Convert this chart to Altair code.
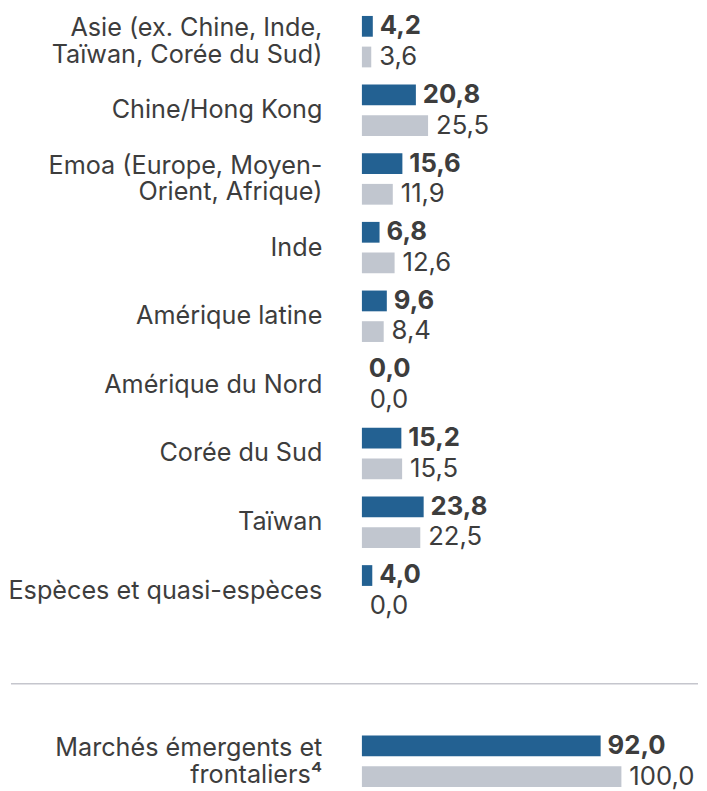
import altair as alt
import pandas as pd

categories = [
    "Asie (ex. Chine, Inde,\nTaïwan, Corée du Sud)",
    "Chine/Hong Kong",
    "Emoa (Europe, Moyen-\nOrient, Afrique)",
    "Inde",
    "Amérique latine",
    "Amérique du Nord",
    "Corée du Sud",
    "Taïwan",
    "Espèces et quasi-espèces",
]
fonds = [4.2, 20.8, 15.6, 6.8, 9.6, 0.0, 15.2, 23.8, 4.0]
indice = [3.6, 25.5, 11.9, 12.6, 8.4, 0.0, 15.5, 22.5, 0.0]

total_category = ["Marchés émergents et\nfrontaliers⁴"]
total_fonds = [92.0]
total_indice = [100.0]

series = ["Fonds", "Indice"]

BLUE = "#236192"
GREY = "#c1c6cf"
TEXT = "#3d3d3d"
FONT = "Inter"
FS = 25.5
VFS = 26
LH = 27


def long_df(cats, a, b):
    rows = []
    for c, va, vb in zip(cats, a, b):
        rows.append({"cat": c, "serie": series[0], "val": va})
        rows.append({"cat": c, "serie": series[1], "val": vb})
    return pd.DataFrame(rows)


xscale = alt.Scale(domain=[0, 100], range=[357, 619.5])


def panel(df, cats, height, y_scale, off_scale, label_dy):
    base = alt.Chart(df).transform_calculate(
        lab="replace(format(datum.val, '.1f'), '.', ',')",
        nlines="length(split(datum.cat, '\\n'))",
    )
    y = alt.Y("cat:N", sort=cats, axis=None, scale=y_scale)
    yo = alt.YOffset("serie:N", sort=series, scale=off_scale)
    bars = base.mark_bar().encode(
        x=alt.X("val:Q", scale=xscale, axis=None),
        y=y, yOffset=yo,
        color=alt.Color("serie:N", scale=alt.Scale(domain=series, range=[BLUE, GREY]), legend=None),
    )
    vals_b = base.transform_filter(alt.datum.serie == series[0]).mark_text(
        align="left", baseline="middle", dx=7, font=FONT, fontSize=VFS, fontWeight="bold", color=TEXT
    ).encode(x=alt.X("val:Q", scale=xscale), y=y, yOffset=yo, text="lab:N")
    vals_g = base.transform_filter(alt.datum.serie == series[1]).mark_text(
        align="left", baseline="middle", dx=8, font=FONT, fontSize=VFS, color=TEXT
    ).encode(x=alt.X("val:Q", scale=xscale), y=y, yOffset=yo, text="lab:N")
    one = base.transform_filter((alt.datum.serie == series[0]) & (alt.datum.nlines == 1)).mark_text(
        align="right", baseline="middle", dy=label_dy, font=FONT, fontSize=FS, color=TEXT
    ).encode(x=alt.value(317), y=y, text="cat:N")
    two = base.transform_filter((alt.datum.serie == series[0]) & (alt.datum.nlines == 2)).mark_text(
        align="right", baseline="middle", dy=label_dy - LH / 2, font=FONT, fontSize=FS,
        color=TEXT, lineBreak="\n", lineHeight=LH
    ).encode(x=alt.value(317), y=y, text="cat:N")
    return alt.layer(bars, vals_b, vals_g, one, two).properties(width=697, height=height)


top = panel(
    long_df(categories, fonds, indice), categories, 625,
    alt.Scale(paddingInner=0, paddingOuter=0),
    alt.Scale(paddingInner=0.3226, paddingOuter=0.281, align=0.143), -6.2,
)

sep = alt.Chart(pd.DataFrame({"k": [0]})).mark_rule(color="#c5c6cd", strokeWidth=1.5).encode(
    x=alt.value(2), x2=alt.value(697), y=alt.value(53)
)
bottom_main = panel(
    long_df(total_category, total_fonds, total_indice), total_category, 158,
    alt.Scale(paddingInner=0, paddingOuter=0.5, align=1),
    alt.Scale(paddingInner=0.3226, paddingOuter=0.435, align=0.981), 13,
)
bottom = alt.layer(sep, bottom_main).properties(width=697, height=158)

chart = alt.vconcat(top, bottom, spacing=0).resolve_scale(
    y="independent", yOffset="independent"
).properties(padding=0).configure_view(stroke=None)

chart.save("out.html", embed_options={"renderer": "svg", "actions": False})
